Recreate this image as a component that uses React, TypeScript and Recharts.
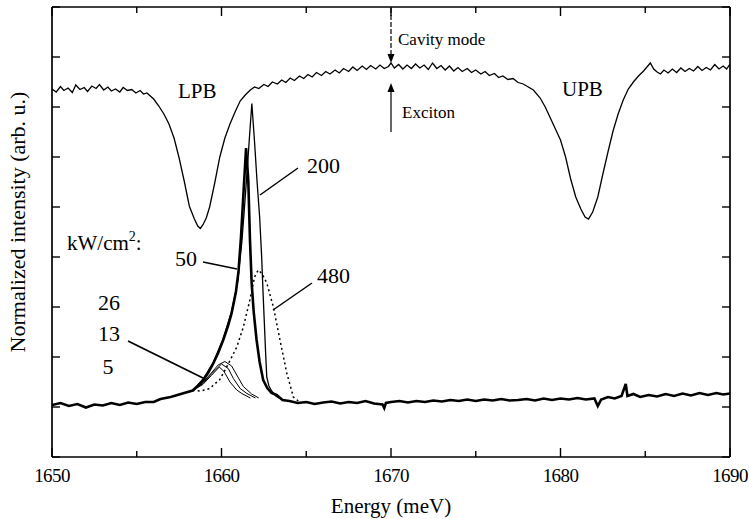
import { LineChart, Line, XAxis, YAxis } from "recharts";

// energies in meV, intensities in axis units (0..9, arbitrary)
const reflectivity = [
  [1650.0, 7.36], [1650.25, 7.3], [1650.5, 7.41], [1650.7, 7.33], [1650.95, 7.38],
  [1651.2, 7.29], [1651.4, 7.44], [1651.65, 7.35], [1651.9, 7.39], [1652.1, 7.31],
  [1652.35, 7.42], [1652.6, 7.37], [1652.8, 7.45], [1653.05, 7.34], [1653.3, 7.4],
  [1653.5, 7.32], [1653.75, 7.36], [1654.0, 7.3], [1654.2, 7.39], [1654.45, 7.33],
  [1654.7, 7.35], [1654.95, 7.28], [1655.2, 7.33], [1655.4, 7.26], [1655.6, 7.28],
  [1656.0, 7.16], [1656.3, 7.02], [1656.6, 6.86], [1656.9, 6.66], [1657.2, 6.38],
  [1657.5, 5.98], [1657.8, 5.52], [1658.1, 5.02], [1658.4, 4.76], [1658.6, 4.62],
  [1658.75, 4.57], [1658.9, 4.64], [1659.1, 4.78], [1659.3, 5.0], [1659.6, 5.48],
  [1659.9, 6.0], [1660.2, 6.38], [1660.5, 6.66], [1660.8, 6.9], [1661.1, 7.12],
  [1661.4, 7.24], [1661.7, 7.34], [1661.95, 7.4], [1662.2, 7.37], [1662.5, 7.45],
  [1662.75, 7.41], [1663.0, 7.5], [1663.3, 7.46], [1663.55, 7.54], [1663.8, 7.49],
  [1664.05, 7.58], [1664.3, 7.53], [1664.6, 7.62], [1664.85, 7.57], [1665.1, 7.65],
  [1665.35, 7.6], [1665.6, 7.69], [1665.9, 7.63], [1666.15, 7.71], [1666.4, 7.66],
  [1666.7, 7.74], [1666.95, 7.68], [1667.2, 7.77], [1667.5, 7.71], [1667.75, 7.8],
  [1668.0, 7.73], [1668.3, 7.82], [1668.55, 7.75], [1668.8, 7.83], [1669.1, 7.76],
  [1669.35, 7.84], [1669.6, 7.77], [1669.85, 7.81], [1670.0, 7.88], [1670.2, 7.78],
  [1670.45, 7.85], [1670.7, 7.76], [1670.95, 7.84], [1671.2, 7.77], [1671.45, 7.86],
  [1671.7, 7.78], [1671.95, 7.84], [1672.2, 7.75], [1672.45, 7.88], [1672.7, 7.77],
  [1672.95, 7.83], [1673.2, 7.74], [1673.45, 7.82], [1673.7, 7.72], [1673.95, 7.79],
  [1674.2, 7.71], [1674.5, 7.77], [1674.75, 7.69], [1675.0, 7.74], [1675.3, 7.66],
  [1675.55, 7.71], [1675.8, 7.63], [1676.1, 7.67], [1676.35, 7.59], [1676.6, 7.62],
  [1676.9, 7.55], [1677.2, 7.57], [1677.5, 7.49], [1677.8, 7.46], [1678.1, 7.4],
  [1678.4, 7.34], [1678.8, 7.18], [1679.1, 7.0], [1679.4, 6.78], [1679.7, 6.56],
  [1680.0, 6.34], [1680.3, 6.0], [1680.6, 5.56], [1680.9, 5.2], [1681.2, 4.96],
  [1681.45, 4.8], [1681.65, 4.76], [1681.9, 4.9], [1682.2, 5.2], [1682.5, 5.66],
  [1682.8, 6.1], [1683.1, 6.52], [1683.4, 6.86], [1683.7, 7.14], [1684.0, 7.36],
  [1684.3, 7.5], [1684.6, 7.62], [1684.9, 7.72], [1685.1, 7.8], [1685.3, 7.88],
  [1685.5, 7.76], [1685.7, 7.7], [1685.9, 7.66], [1686.1, 7.74], [1686.35, 7.68],
  [1686.6, 7.76], [1686.85, 7.69], [1687.1, 7.78], [1687.35, 7.71], [1687.6, 7.77],
  [1687.85, 7.72], [1688.1, 7.81], [1688.35, 7.73], [1688.6, 7.79], [1688.85, 7.74],
  [1689.1, 7.85], [1689.35, 7.76], [1689.6, 7.82], [1689.8, 7.76], [1690.0, 7.86],
];

const pl50 = [
  [1650.0, 1.04], [1650.5, 1.08], [1651.0, 1.02], [1651.5, 1.06], [1652.0, 0.99],
  [1652.5, 1.05], [1653.0, 1.03], [1653.5, 1.08], [1654.0, 1.04], [1654.5, 1.09],
  [1655.0, 1.06], [1655.5, 1.1], [1656.0, 1.1], [1656.4, 1.16], [1657.0, 1.2],
  [1657.4, 1.24], [1657.9, 1.29], [1658.3, 1.33], [1658.6, 1.42], [1658.9, 1.53],
  [1659.2, 1.68], [1659.5, 1.86], [1659.8, 2.08], [1660.1, 2.34], [1660.4, 2.64],
  [1660.6, 2.88], [1660.85, 3.3], [1661.0, 3.7], [1661.15, 4.4], [1661.3, 5.3],
  [1661.45, 6.18], [1661.58, 5.54], [1661.68, 4.34], [1661.78, 3.48], [1661.9, 2.9],
  [1662.07, 2.34], [1662.25, 1.9], [1662.46, 1.54], [1662.7, 1.38], [1662.95, 1.28],
  [1663.25, 1.24], [1663.6, 1.14], [1664.0, 1.12], [1664.5, 1.08], [1665.0, 1.1],
  [1665.5, 1.06], [1666.0, 1.09], [1666.5, 1.11], [1667.0, 1.07], [1667.5, 1.1],
  [1668.0, 1.08], [1668.5, 1.12], [1669.0, 1.07], [1669.5, 1.05], [1669.6, 0.98],
  [1669.7, 1.08], [1670.0, 1.1], [1670.5, 1.12], [1671.0, 1.09], [1671.5, 1.12],
  [1672.0, 1.1], [1672.5, 1.13], [1673.0, 1.11], [1673.5, 1.14], [1674.0, 1.12],
  [1674.5, 1.15], [1675.0, 1.12], [1675.5, 1.15], [1676.0, 1.13], [1676.5, 1.16],
  [1677.0, 1.13], [1677.5, 1.14], [1678.0, 1.16], [1678.5, 1.13], [1679.0, 1.17],
  [1679.5, 1.14], [1680.0, 1.17], [1680.5, 1.15], [1681.0, 1.18], [1681.5, 1.15],
  [1682.0, 1.17], [1682.2, 1.02], [1682.4, 1.15], [1682.8, 1.2], [1683.2, 1.17],
  [1683.6, 1.22], [1683.85, 1.46], [1683.95, 1.22], [1684.3, 1.26], [1684.7, 1.2],
  [1685.2, 1.24], [1685.7, 1.21], [1686.2, 1.26], [1686.7, 1.22], [1687.2, 1.27],
  [1687.7, 1.23], [1688.2, 1.28], [1688.7, 1.24], [1689.2, 1.28], [1689.6, 1.25],
  [1690.0, 1.27],
];

const pl200 = [
  [1658.3, 1.33], [1658.9, 1.55], [1659.5, 1.88], [1660.1, 2.36], [1660.6, 2.92],
  [1660.95, 3.5], [1661.2, 4.3], [1661.38, 5.1], [1661.55, 5.9], [1661.65, 6.4],
  [1661.79, 7.07], [1661.95, 6.3], [1662.1, 5.5], [1662.25, 4.8], [1662.37, 4.0],
  [1662.45, 3.3], [1662.53, 2.67], [1662.6, 2.1], [1662.67, 1.6], [1662.8, 1.42],
  [1662.96, 1.32], [1663.2, 1.22], [1663.5, 1.16],
];

const pl480 = [
  [1658.3, 1.33], [1658.8, 1.32], [1659.3, 1.37], [1659.9, 1.55], [1660.4, 1.86],
  [1660.9, 2.2], [1661.29, 2.6], [1661.68, 3.15], [1661.95, 3.6], [1662.17, 3.74],
  [1662.4, 3.66], [1662.67, 3.48], [1663.06, 3.0], [1663.45, 2.34], [1663.85, 1.68],
  [1664.24, 1.2], [1664.6, 1.1],
];

const pl26 = [
  [1658.3, 1.33], [1658.9, 1.49], [1659.4, 1.68], [1659.8, 1.84], [1660.2, 1.91],
  [1660.6, 1.82], [1660.9, 1.64], [1661.29, 1.41], [1661.78, 1.26], [1662.2, 1.18],
];

const pl13 = [
  [1658.3, 1.33], [1658.9, 1.47], [1659.4, 1.66], [1660.0, 1.86], [1660.4, 1.77],
  [1660.7, 1.57], [1661.1, 1.37], [1661.5, 1.27], [1662.0, 1.18],
];

const pl5 = [
  [1658.3, 1.33], [1658.9, 1.45], [1659.4, 1.63], [1659.87, 1.8], [1660.15, 1.71],
  [1660.5, 1.5], [1660.9, 1.34], [1661.2, 1.27], [1661.7, 1.18],
];

const xTicks = [1650, 1655, 1660, 1665, 1670, 1675, 1680, 1685, 1690];
const yTicks = [0, 1, 2, 3, 4, 5, 6, 7, 8, 9];

const toPts = (a: number[][]) => a.map(([e, v]) => ({ e, v }));

const SERIF = "'Liberation Serif', 'Times New Roman', serif";

const BottomTick = ({ x, y, payload }: any) => {
  const major = payload.value % 10 === 0;
  return (
    <g>
      <line x1={x} x2={x} y1={y} y2={y - (major ? 9 : 6)} stroke="#000" strokeWidth={1.4} />
      {major && (
        <text x={x} y={y + 25} textAnchor="middle" fontSize={19} fontFamily={SERIF} fill="#000" letterSpacing={-0.6}>
          {payload.value}
        </text>
      )}
    </g>
  );
};

const TopTick = ({ x, y, payload }: any) => {
  const major = payload.value % 10 === 0;
  return <line x1={x} x2={x} y1={y} y2={y + (major ? 9 : 6)} stroke="#000" strokeWidth={1.4} />;
};

const LeftTick = ({ x, y }: any) => (
  <line x1={x} x2={x + 8} y1={y} y2={y} stroke="#000" strokeWidth={1.4} />
);

const RightTick = ({ x, y }: any) => (
  <line x1={x} x2={x - 8} y1={y} y2={y} stroke="#000" strokeWidth={1.4} />
);

export default function App() {
  const axisLine = { stroke: "#000", strokeWidth: 1.7 };
  const textProps = { fontFamily: SERIF, fill: "#000" };
  return (
    <div style={{ position: "absolute", left: 0, top: 0, width: 749, height: 519, background: "#fff" }}>
      <LineChart width={749} height={519} margin={{ top: 6, right: 18, bottom: 61, left: 51 }}>
        <XAxis
          xAxisId="bottom"
          dataKey="e"
          type="number"
          domain={[1650, 1690]}
          ticks={xTicks}
          interval={0}
          allowDataOverflow
          height={1}
          tickSize={0}
          tickMargin={0}
          tickLine={false}
          axisLine={axisLine}
          tick={<BottomTick />}
        />
        <XAxis
          xAxisId="top"
          orientation="top"
          dataKey="e"
          type="number"
          domain={[1650, 1690]}
          ticks={xTicks}
          interval={0}
          allowDataOverflow
          height={1}
          tickSize={0}
          tickMargin={0}
          tickLine={false}
          axisLine={axisLine}
          tick={<TopTick />}
        />
        <YAxis
          yAxisId="left"
          type="number"
          domain={[0, 9]}
          ticks={yTicks}
          interval={0}
          allowDataOverflow
          width={1}
          tickSize={0}
          tickMargin={0}
          tickLine={false}
          axisLine={axisLine}
          tick={<LeftTick />}
        />
        <YAxis
          yAxisId="right"
          orientation="right"
          type="number"
          domain={[0, 9]}
          ticks={yTicks}
          interval={0}
          allowDataOverflow
          width={1}
          tickSize={0}
          tickMargin={0}
          tickLine={false}
          axisLine={axisLine}
          tick={<RightTick />}
        />
        <Line xAxisId="top" yAxisId="right" data={toPts(reflectivity)} dataKey="v" type="linear" stroke="#000" strokeWidth={1.3} dot={false} isAnimationActive={false} />
        <Line xAxisId="bottom" yAxisId="left" data={toPts(pl480)} dataKey="v" type="linear" stroke="#000" strokeWidth={1.5} strokeDasharray="2 3" dot={false} isAnimationActive={false} />
        <Line xAxisId="bottom" yAxisId="left" data={toPts(pl5)} dataKey="v" type="linear" stroke="#000" strokeWidth={1} dot={false} isAnimationActive={false} />
        <Line xAxisId="bottom" yAxisId="left" data={toPts(pl13)} dataKey="v" type="linear" stroke="#000" strokeWidth={1} dot={false} isAnimationActive={false} />
        <Line xAxisId="bottom" yAxisId="left" data={toPts(pl26)} dataKey="v" type="linear" stroke="#000" strokeWidth={1} dot={false} isAnimationActive={false} />
        <Line xAxisId="bottom" yAxisId="left" data={toPts(pl200)} dataKey="v" type="linear" stroke="#000" strokeWidth={1.3} dot={false} isAnimationActive={false} />
        <Line xAxisId="bottom" yAxisId="left" data={toPts(pl50)} dataKey="v" type="linear" stroke="#000" strokeWidth={2.6} dot={false} isAnimationActive={false} />
      </LineChart>

      <svg width={749} height={519} style={{ position: "absolute", left: 0, top: 0, pointerEvents: "none" }}>
        {/* Cavity mode / exciton arrows */}
        <line x1={391} x2={391} y1={8} y2={56} stroke="#000" strokeWidth={1.2} strokeDasharray="5 2" />
        <polygon points="387.5,54 394.5,54 391,63" fill="#000" />
        <line x1={391} x2={391} y1={132} y2={90} stroke="#000" strokeWidth={1.2} />
        <polygon points="387.5,92 394.5,92 391,83" fill="#000" />
        <text x={398} y={45} fontSize={17} {...textProps}>Cavity mode</text>
        <text x={402} y={118} fontSize={17} {...textProps}>Exciton</text>

        <text x={178} y={98} fontSize={21} {...textProps}>LPB</text>
        <text x={562} y={96} fontSize={21} {...textProps}>UPB</text>

        {/* power labels and pointers */}
        <text x={307} y={173} fontSize={22} {...textProps}>200</text>
        <line x1={298} y1={168} x2={260} y2={195} stroke="#000" strokeWidth={1.5} />
        <text x={175} y={266} fontSize={22} {...textProps}>50</text>
        <line x1={203} y1={262} x2={237} y2={269} stroke="#000" strokeWidth={1.5} />
        <text x={317} y={283} fontSize={22} {...textProps}>480</text>
        <line x1={312} y1={283} x2={273} y2={310} stroke="#000" strokeWidth={1.5} />

        <text x={67} y={250} fontSize={21} {...textProps}>
          kW/cm
          <tspan fontSize={14} dy={-9}>2</tspan>
          <tspan dy={9}>:</tspan>
        </text>
        <text x={109} y={310} fontSize={22} textAnchor="middle" {...textProps}>26</text>
        <text x={109} y={341} fontSize={22} textAnchor="middle" {...textProps}>13</text>
        <text x={108} y={374} fontSize={22} textAnchor="middle" {...textProps}>5</text>
        <line x1={128} y1={341} x2={203} y2={378} stroke="#000" strokeWidth={1.8} />

        <text x={391} y={513} fontSize={21} textAnchor="middle" {...textProps}>Energy (meV)</text>
        <text x={25} y={222} fontSize={22} textAnchor="middle" transform="rotate(-90 25 222)" {...textProps}>
          Normalized intensity (arb. u.)
        </text>
      </svg>
    </div>
  );
}
